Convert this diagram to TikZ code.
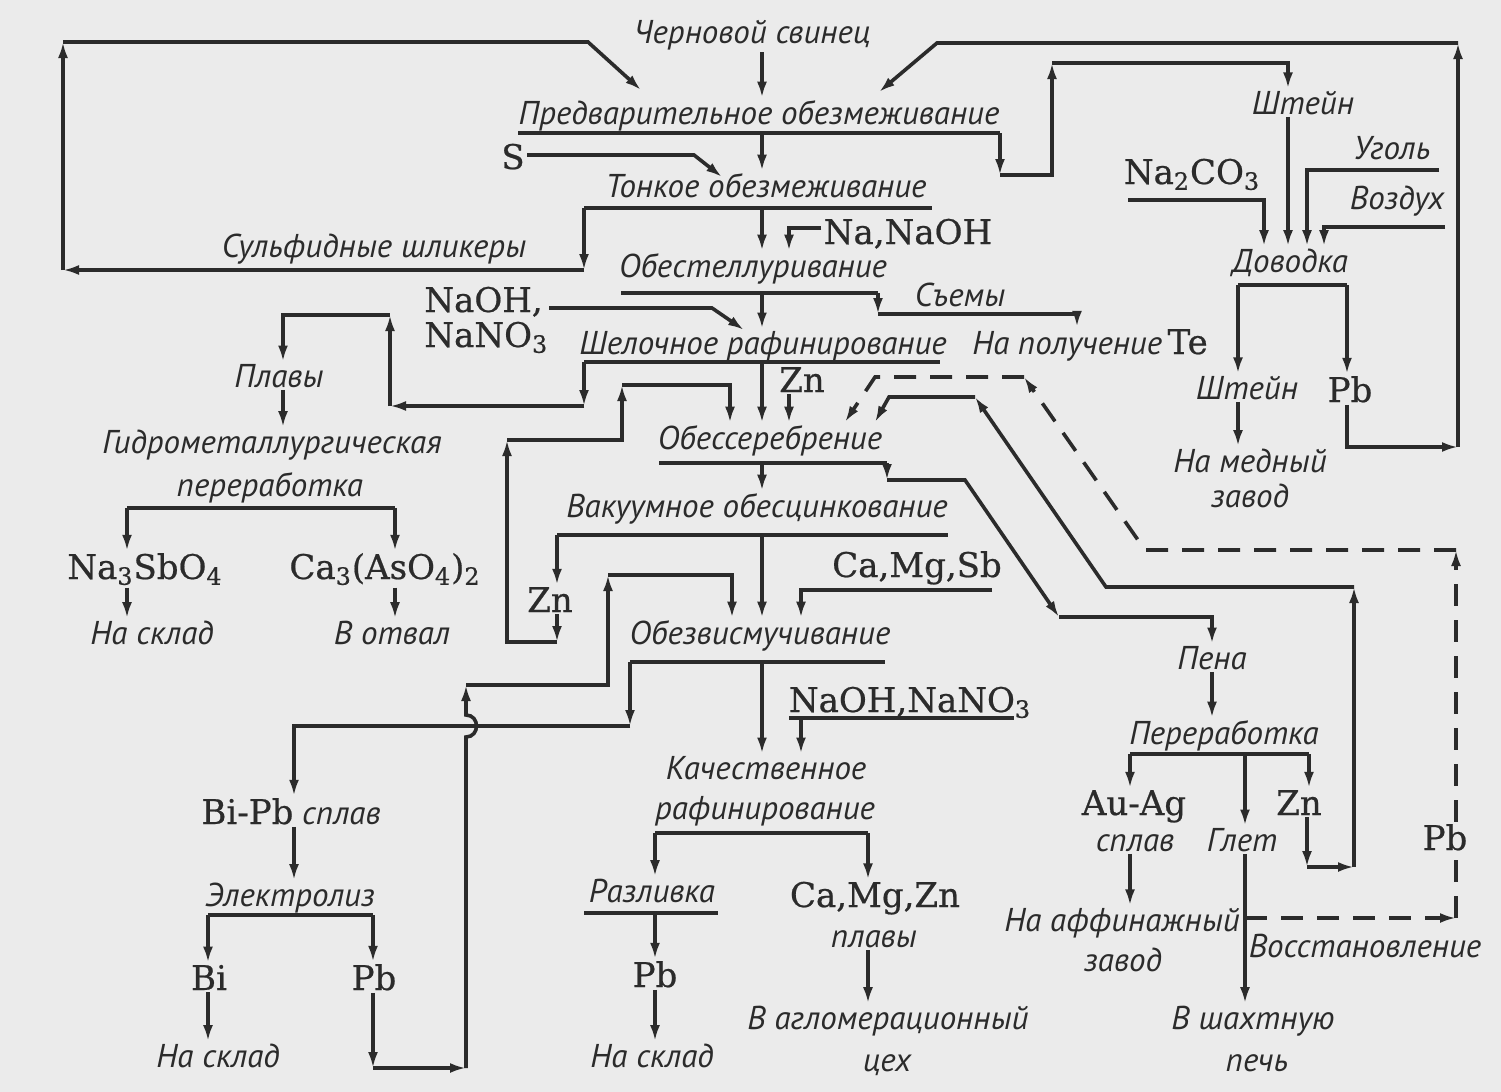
\documentclass[tikz,border=0pt]{standalone}
\usepackage{fontspec}
\usetikzlibrary{arrows.meta}
\newfontfamily\ptsans{PT Sans}
\newfontfamily\dvserif[FakeBold=0.6]{DejaVu Serif}
\newcommand{\labfont}{\ptsans\itshape\fontsize{16.5}{19}\selectfont}
\newcommand{\chemfont}{\dvserif\upshape\fontsize{17}{20}\selectfont}
\definecolor{ink}{HTML}{2B2B2B}
\definecolor{paper}{HTML}{EBEBEB}
\tikzset{
  lab/.style={font=\labfont, text=ink, inner sep=1pt, anchor=base},
  chem/.style={font=\chemfont, text=ink, inner sep=1pt, anchor=base},
  bar/.style={draw=ink, line width=1.8pt},
  flow/.style={bar, -{Latex[length=8pt,width=5pt]}},
  dflow/.style={flow, dash pattern=on 11pt off 7pt},
}
\begin{document}
\begin{tikzpicture}[x=0.5pt, y=-0.5pt]
  \fill[paper] (0,0) rectangle (1501,1092);
  \useasboundingbox (0,0) rectangle (1501,1092);

  % Operaciones principales
  \node[lab] (chern) at (752,43) {Черновой свинец};
  \node[lab] (pred) at (759,124) {Предварительное обезмеживание};
  \node[lab] (tonk) at (766,197) {Тонкое обезмеживание};
  \node[lab] (obtel) at (753,277) {Обестеллуривание};
  \node[lab] (shel) at (763,354) {Шелочное рафинирование};
  \node[lab] (obser) at (770,449) {Обессеребрение};
  \node[lab] (vakuum) at (757,517) {Вакуумное обесцинкование};
  \node[lab] (obviz) at (760,644) {Обезвисмучивание};
  \node[lab] (kach1) at (766,779) {Качественное};
  \node[lab] (kach2) at (765,819) {рафинирование};
  \node[lab] (razl) at (652,902) {Разливка};
  \node[chem] (pbr) at (655,987) {Pb};
  \node[lab] (sklr) at (652,1067) {На склад};

  % Reactivos
  \node[chem] (sera) at (513,169) {S};
  \node[chem] (nanaoh) at (908,244) {Na,NaOH};
  \node[chem, anchor=base west] (naoh) at (422,312) {NaOH,};
  \node[chem, anchor=base west] (nano) at (422,347) {NaNO\textsubscript{3}};
  \node[chem] (zn1) at (802,392) {Zn};
  \node[chem] (camgsb) at (917,577) {Ca,Mg,Sb};
  \node[chem] (naohnano) at (910,712) {NaOH,NaNO\textsubscript{3}};
  \node[chem] (camgzn) at (875,907) {Ca,Mg,Zn};
  \node[lab] (plavy2) at (874,947) {плавы};
  \node[lab] (aglo1) at (888,1029) {В агломерационный};
  \node[lab] (aglo2) at (887,1071) {цех};

  % Productos laterales
  \node[lab] (sulf) at (374,257) {Сульфидные шликеры};
  \node[lab] (siemy) at (960,306) {Съемы};
  \node[lab] (napol) at (1090,354) {На получение\,{\chemfont Te}};
  \node[lab] (plavy1) at (279,387) {Плавы};
  \node[lab] (gidro) at (272,453) {Гидрометаллургическая};
  \node[lab] (perer1) at (270,496) {переработка};
  \node[chem] (sbo) at (145,579) {Na\textsubscript{3}SbO\textsubscript{4}};
  \node[chem] (aso) at (385,579) {Ca\textsubscript{3}(AsO\textsubscript{4})\textsubscript{2}};
  \node[lab] (skl1) at (152,644) {На склад};
  \node[lab] (otval) at (392,644) {В отвал};
  \node[chem] (zn2) at (550,612) {Zn};
  \node[lab] (bipb) at (291,824) {{\chemfont Bi-Pb} сплав};
  \node[lab] (elek) at (290,906) {Электролиз};
  \node[chem] (bi) at (209,990) {Bi};
  \node[chem] (pbe) at (374,990) {Pb};
  \node[lab] (skl2) at (218,1067) {На склад};

  % Lado derecho
  \node[lab] (sht1) at (1303,114) {Штейн};
  \node[chem] (soda) at (1192,184) {Na\textsubscript{2}CO\textsubscript{3}};
  \node[lab] (ugol) at (1392,159) {Уголь};
  \node[lab] (vozd) at (1397,209) {Воздух};
  \node[lab] (dovod) at (1290,272) {Доводка};
  \node[lab] (sht2) at (1247,399) {Штейн};
  \node[chem] (pbd) at (1350,402) {Pb};
  \node[lab] (med1) at (1250,472) {На медный};
  \node[lab] (med2) at (1250,507) {завод};
  \node[lab] (pena) at (1212,669) {Пена};
  \node[lab] (perer2) at (1224,744) {Переработка};
  \node[chem] (auag) at (1134,815) {Au-Ag};
  \node[lab] (splav) at (1135,851) {сплав};
  \node[chem] (zn3) at (1299,815) {Zn};
  \node[lab] (glet) at (1242,851) {Глет};
  \node[lab] (affin1) at (1122,931) {На аффинажный};
  \node[lab] (affin2) at (1123,971) {завод};
  \node[lab] (vosst) at (1365,957) {Восстановление};
  \node[lab] (shakh1) at (1253,1029) {В шахтную};
  \node[lab] (shakh2) at (1257,1071) {печь};
  \node[chem] (pbv) at (1445,850) {Pb};

  % Columnas y barras
  \coordinate (ax) at (762,0);
  \coordinate (rc) at (789,0);
  \coordinate (rc2) at (801,0);
  \coordinate (sc) at (1288,0);
  \coordinate (gx) at (1245,0);
  \coordinate (u1l) at (518,133);  \coordinate (u1r) at (1000,133);
  \coordinate (u2l) at (584,208);  \coordinate (u2r) at (932,208);
  \coordinate (u3l) at (621,293);  \coordinate (u3r) at (878,293);
  \coordinate (u4l) at (584,362);  \coordinate (u4r) at (940,362);
  \coordinate (u5l) at (659,463);  \coordinate (u5r) at (887,463);
  \coordinate (u6l) at (557,535);  \coordinate (u6r) at (948,535);
  \coordinate (u7l) at (630,662);  \coordinate (u7r) at (885,662);
  \coordinate (x1) at (789,718);   \coordinate (x2) at (1014,718);
  \coordinate (kbl) at (655,833);  \coordinate (kbr) at (868,833);
  \coordinate (rzl) at (584,913);  \coordinate (rzr) at (718,913);
  \coordinate (el) at (208,915);   \coordinate (er) at (373,915);
  \coordinate (g1) at (127,508);   \coordinate (g2) at (395,508);
  \coordinate (h1) at (1238,285);  \coordinate (h2) at (1347,285);
  \coordinate (pl) at (1130,754);  \coordinate (pr) at (1309,754);

  % Puntos de quiebre
  \coordinate (s1) at (694,155);   \coordinate (s2) at (722,177);
  \coordinate (n1) at (789,228);
  \coordinate (k1) at (712,308);   \coordinate (k2) at (744,330);
  \coordinate (c1) at (878,314);   \coordinate (c2) at (1077,314);
  \coordinate (w1) at (992,590);
  \coordinate (a1) at (584,270);   \coordinate (a2) at (63,270);
  \coordinate (a3) at (63,42);     \coordinate (a4) at (588,42);
  \coordinate (a5) at (641,90);
  \coordinate (b1) at (1458,447);  \coordinate (b2) at (1458,43);
  \coordinate (b3) at (937,43);    \coordinate (b4) at (879,92);
  \coordinate (t1) at (1000,175);  \coordinate (t2) at (1052,175);
  \coordinate (t3) at (1052,63);   \coordinate (t4) at (1288,63);
  \coordinate (y1) at (1128,200);  \coordinate (y2) at (1264,200);
  \coordinate (y4) at (1439,170);  \coordinate (y5) at (1307,170);
  \coordinate (y7) at (1445,227);  \coordinate (y8) at (1324,227);
  \coordinate (p1) at (584,406);   \coordinate (p2) at (390,406);
  \coordinate (p3) at (390,315);   \coordinate (p4) at (283,315);
  \coordinate (r2) at (557,642);   \coordinate (r3) at (507,642);
  \coordinate (r4) at (507,440);   \coordinate (r5) at (622,440);
  \coordinate (r6) at (622,385);   \coordinate (r7) at (730,385);
  \coordinate (d2) at (1456,918);  \coordinate (d3) at (1456,550);
  \coordinate (d4) at (1145,550);  \coordinate (d5) at (1024,377);
  \coordinate (d6) at (875,377);   \coordinate (d7) at (845,422);
  \coordinate (q2) at (1307,867);  \coordinate (q3) at (1354,867);
  \coordinate (q4) at (1354,587);  \coordinate (q5) at (1106,587);
  \coordinate (q6) at (975,397);   \coordinate (q7) at (889,397);
  \coordinate (q8) at (875,422);
  \coordinate (e2) at (887,480);   \coordinate (e3) at (965,480);
  \coordinate (e4) at (1059,617);  \coordinate (e5) at (1212,617);
  \coordinate (o1) at (630,726);   \coordinate (o2) at (294,726);
  \coordinate (l1) at (373,1068);  \coordinate (l2) at (466,1068);
  \coordinate (j1) at (466,737);   \coordinate (j2) at (466,715);
  \coordinate (l3) at (466,685);   \coordinate (l4) at (608,685);
  \coordinate (l5) at (608,575);   \coordinate (l6) at (732,575);

  % Linea principal
  \draw[flow] (ax |- chern.south) -- (ax |- pred.north);
  \draw[bar] (u1l) -- (u1r);
  \draw[flow] (ax |- u1l) -- (ax |- tonk.north);
  \draw[bar] (u2l) -- (u2r);
  \draw[flow] (ax |- u2l) -- (ax |- obtel.north);
  \draw[bar] (u3l) -- (u3r);
  \draw[flow] (ax |- u3l) -- (ax |- shel.north);
  \draw[bar] (u4l) -- (u4r);
  \draw[flow] (ax |- u4l) -- (ax |- obser.north);
  \draw[bar] (u5l) -- (u5r);
  \draw[flow] (ax |- u5l) -- (ax |- vakuum.north);
  \draw[bar] (u6l) -- (u6r);
  \draw[flow] (ax |- u6l) -- (ax |- obviz.north);
  \draw[bar] (u7l) -- (u7r);
  \draw[flow] (ax |- u7l) -- (ax |- kach1.north);
  \draw[bar] (kbl) -- (kbr);
  \draw[flow] (kbl) -- (kbl |- razl.north);
  \draw[flow] (kbr) -- (kbr |- camgzn.north);
  \draw[bar] (rzl) -- (rzr);
  \draw[flow] (kbl |- rzl) -- (kbl |- pbr.north);
  \draw[flow] (kbl |- pbr.south) -- (kbl |- sklr.north);
  \draw[flow] (kbr |- plavy2.south) -- (kbr |- aglo1.north);

  % Reactivos
  \draw[flow] (sera.east |- s1) -- (s1) -- (s2);
  \draw[flow] (nanaoh.west |- n1) -- (n1) -- (rc |- obtel.north);
  \draw[flow] ([xshift=2pt]naoh.east |- k1) -- (k1) -- (k2);
  \draw[flow] (rc |- zn1.south) -- (rc |- obser.north);
  \draw[flow] (w1) -- (rc2 |- w1) -- (rc2 |- obviz.north);
  \draw[bar] (x1) -- (x2);
  \draw[flow] (rc2 |- x1) -- (rc2 |- kach1.north);

  % Съемы
  \draw[flow] (u3r) -- (c1);
  \draw[flow] (c1) -- (c2) -- (c2 |- napol.north);

  % Шликеры
  \draw[flow] (u2l) -- (a1);
  \draw[flow] (a1) -- (a2);
  \draw[flow] (a2) -- (a3);
  \draw[flow] (a3) -- (a4) -- (a5);

  % Штейн y доводка
  \draw[flow] (u1r) -- (t1);
  \draw[flow] (t1) -- (t2) -- (t3);
  \draw[flow] (t3) -- (t4) -- (sc |- sht1.north);
  \draw[flow] (sc |- sht1.south) -- (sc |- dovod.north);
  \draw[flow] (y1) -- (y2) -- (y2 |- dovod.north);
  \draw[flow] (y4) -- (y5) -- (y5 |- dovod.north);
  \draw[flow] (y7) -- (y8) -- (y8 |- dovod.north);
  \draw[bar] (h1) -- (h2);
  \draw[flow] (h1) -- (h1 |- sht2.north);
  \draw[flow] (h2) -- (h2 |- pbd.north);
  \draw[flow] (h1 |- sht2.south) -- (h1 |- med1.north);
  \draw[flow] (h2 |- pbd.south) -- (h2 |- b1) -- (b1);
  \draw[flow] (b1) -- (b2);
  \draw[flow] (b2) -- (b3) -- (b4);

  % Плавы
  \draw[flow] (u4l) -- (p1);
  \draw[flow] (p1) -- (p2);
  \draw[flow] (p2) -- (p3);
  \draw[flow] (p3) -- (p4) -- (p4 |- plavy1.north);
  \draw[flow] (p4 |- plavy1.south) -- (p4 |- gidro.north);
  \draw[bar] (g1) -- (g2);
  \draw[flow] (g1) -- (g1 |- sbo.north);
  \draw[flow] (g2) -- (g2 |- aso.north);
  \draw[flow] (g1 |- sbo.south) -- (g1 |- skl1.north);
  \draw[flow] (g2 |- aso.south) -- (g2 |- otval.north);

  % Цинк обратно
  \draw[flow] (u6l) -- (u6l |- zn2.north);
  \draw[flow] (u6l |- zn2.south) -- (r2);
  \draw[flow] (r2) -- (r3) -- (r4);
  \draw[flow] (r4) -- (r5) -- (r6);
  \draw[flow] (r6) -- (r7) -- (r7 |- obser.north);

  % Пена
  \draw[flow] (u5r) -- (e2);
  \draw[flow] (e2) -- (e3) -- (e4);
  \draw[flow] (e4) -- (e5) -- (e5 |- pena.north);
  \draw[flow] (e5 |- pena.south) -- (e5 |- perer2.north);
  \draw[bar] (pl) -- (pr);
  \draw[flow] (pl) -- (pl |- auag.north);
  \draw[flow] (pr) -- (pr |- zn3.north);
  \draw[flow] (gx |- pl) -- (gx |- glet.north);
  \draw[flow] (pl |- splav.south) -- (pl |- affin1.north);
  \draw[flow] (gx |- glet.south) -- (gx |- shakh1.north);
  \draw[flow] (q2 |- zn3.south) -- (q2);
  \draw[flow] (q2) -- (q3);
  \draw[flow] (q3) -- (q4);
  \draw[flow] (q4) -- (q5) -- (q6);
  \draw[flow] (q6) -- (q7) -- (q8);

  % Восстановление (discontinua)
  \draw[dflow] (gx |- d2) -- (d2);
  \draw[bar, dash pattern=on 11pt off 7pt] (d2) -- (d2 |- pbv.south);
  \draw[dflow] (d2 |- pbv.north) -- (d3);
  \draw[dflow] (d3) -- (d4) -- (d5);
  \draw[dflow] (d5) -- (d6) -- (d7);

  % Висмут
  \draw[flow] (u7l) -- (o1);
  \draw[flow] (o1) -- (o2) -- (o2 |- bipb.north);
  \draw[flow] (o2 |- bipb.south) -- (o2 |- elek.north);
  \draw[bar] (el) -- (er);
  \draw[flow] (el) -- (el |- bi.north);
  \draw[flow] (er) -- (er |- pbe.north);
  \draw[flow] (el |- bi.south) -- (el |- skl2.north);
  \draw[flow] (er |- pbe.south) -- (l1);
  \draw[flow] (l1) -- (l2);
  \draw[flow] (l2) -- (j1) .. controls ([xshift=7pt]j1) and ([xshift=7pt]j2) .. (j2) -- (l3);
  \draw[flow] (l3) -- (l4) -- (l5);
  \draw[flow] (l5) -- (l6) -- (l6 |- obviz.north);
\end{tikzpicture}
\end{document}
